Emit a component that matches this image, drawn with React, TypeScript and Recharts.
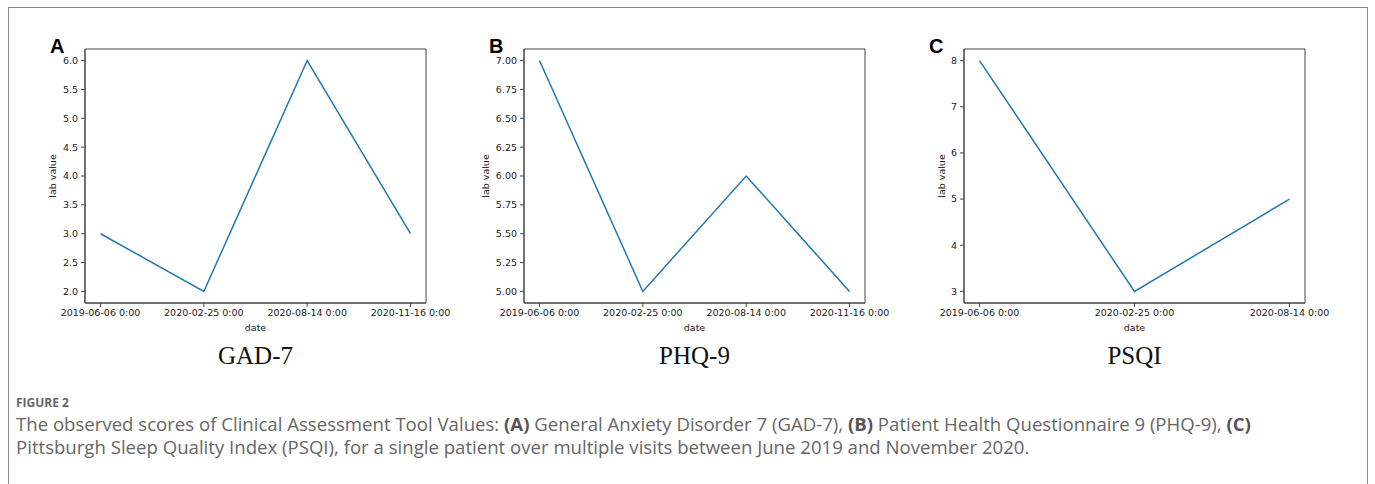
import React from "react";
import { Line, LineChart, ReferenceArea, XAxis, YAxis } from "recharts";

// visit dates (categorical axis, evenly spaced like matplotlib strings)
const datesAB = ["2019-06-06 0:00", "2020-02-25 0:00", "2020-08-14 0:00", "2020-11-16 0:00"];
const datesC = ["2019-06-06 0:00", "2020-02-25 0:00", "2020-08-14 0:00"];

const gad7 = [3, 2, 6, 3];
const phq9 = [7, 5, 6, 5];
const psqi = [8, 3, 5];

const gadTicks = [2.0, 2.5, 3.0, 3.5, 4.0, 4.5, 5.0, 5.5, 6.0];
const phqTicks = [5.0, 5.25, 5.5, 5.75, 6.0, 6.25, 6.5, 6.75, 7.0];
const psqiTicks = [3, 4, 5, 6, 7, 8];

const BLUE = "#1f77b4";
const AXIS = "#444";
const tickFont = { fontSize: 9.5, fill: "#222", fontFamily: "DejaVu Sans" };

type PanelProps = {
  left: number;
  letter: string;
  title: string;
  dates: string[];
  values: number[];
  ticks: number[];
  digits: number;
  marginLeft: number;
  ylabelOffset: number;
};

const Panel = ({ left, letter, title, dates, values, ticks, digits, marginLeft, ylabelOffset }: PanelProps) => {
  const data = dates.map((d, i) => ({ i, value: values[i] }));
  const n = dates.length - 1;
  const xpad = n * 0.05;
  const lo = ticks[0];
  const hi = ticks[ticks.length - 1];
  const ypad = (hi - lo) * 0.05;
  const xDomain: [number, number] = [-xpad, n + xpad];
  const yDomain: [number, number] = [lo - ypad, hi + ypad];
  const plotLeft = marginLeft + 30;
  const plotRight = plotLeft + 341;
  const cx = (plotLeft + plotRight) / 2;

  return (
    <div style={{ position: "absolute", left, top: 0, width: 460, height: 380 }}>
      <LineChart
        width={460}
        height={380}
        data={data}
        margin={{ top: 49, right: 460 - plotRight, bottom: 57, left: marginLeft }}
      >
        <XAxis
          dataKey="i"
          type="number"
          domain={xDomain}
          ticks={dates.map((_, i) => i)}
          tickFormatter={(v: number) => dates[v] ?? ""}
          allowDataOverflow
          height={20}
          tickSize={4}
          tickMargin={2}
          stroke={AXIS}
          tick={tickFont}
          interval={0}
        />
        <YAxis
          type="number"
          domain={yDomain}
          ticks={ticks}
          allowDataOverflow
          width={30}
          tickSize={4}
          tickMargin={3}
          stroke={AXIS}
          tick={tickFont}
          tickFormatter={(v: number) => v.toFixed(digits)}
          interval={0}
        />
        {/* matplotlib-style box around the axes */}
        <ReferenceArea
          x1={xDomain[0]}
          x2={xDomain[1]}
          y1={yDomain[0]}
          y2={yDomain[1]}
          fill="none"
          fillOpacity={0}
          stroke={AXIS}
          strokeWidth={1}
          ifOverflow="visible"
        />
        <Line
          type="linear"
          dataKey="value"
          stroke={BLUE}
          strokeWidth={1.5}
          dot={false}
          isAnimationActive={false}
        />
      </LineChart>
      <div style={{ position: "absolute", left: plotLeft - 35, top: 36, fontFamily: "Liberation Sans", fontWeight: 700, fontSize: 20, lineHeight: "20px" }}>
        {letter}
      </div>
      <div
        style={{
          position: "absolute",
          left: plotLeft - ylabelOffset - 30,
          top: 170,
          width: 60,
          textAlign: "center",
          transform: "rotate(-90deg)",
          fontFamily: "DejaVu Sans",
          fontSize: 9.5,
          color: "#222",
          lineHeight: "12px",
        }}
      >
        lab value
      </div>
      <div style={{ position: "absolute", left: cx - 30, top: 322, width: 60, textAlign: "center", fontFamily: "DejaVu Sans", fontSize: 9.5, color: "#222", lineHeight: "12px" }}>
        date
      </div>
      <div style={{ position: "absolute", left: cx - 100, top: 341, width: 200, textAlign: "center", fontFamily: "Liberation Serif", fontSize: 25, color: "#111", lineHeight: "30px" }}>
        {title}
      </div>
    </div>
  );
};

export default function App() {
  return (
    <div style={{ position: "fixed", left: 0, top: 0, width: 1375, height: 484, background: "#fff", overflow: "hidden" }}>
      <div style={{ position: "absolute", left: 8, top: 7, width: 1358, height: 490, border: "1.5px solid #8a8a8a" }} />
      <Panel left={0} letter="A" title="GAD-7" dates={datesAB} values={gad7} ticks={gadTicks} digits={1} marginLeft={55} ylabelOffset={32} />
      <Panel left={460} letter="B" title="PHQ-9" dates={datesAB} values={phq9} ticks={phqTicks} digits={2} marginLeft={34} ylabelOffset={38} />
      <Panel left={910} letter="C" title="PSQI" dates={datesC} values={psqi} ticks={psqiTicks} digits={0} marginLeft={24} ylabelOffset={22} />
      <div style={{ position: "absolute", left: 16, top: 395, fontFamily: "Open Sans", fontWeight: 700, fontSize: 12, color: "#666", lineHeight: "16px" }}>
        FIGURE 2
      </div>
      <div style={{ position: "absolute", left: 16, top: 412, fontFamily: "Open Sans", fontSize: 18.6, color: "#666", lineHeight: "23px", whiteSpace: "nowrap" }}>
        <div>
          The observed scores of Clinical Assessment Tool Values: <b style={{ color: "#555" }}>(A)</b> General Anxiety Disorder 7 (GAD-7), <b style={{ color: "#555" }}>(B)</b> Patient Health Questionnaire 9 (PHQ-9), <b style={{ color: "#555" }}>(C)</b>
        </div>
        <div>Pittsburgh Sleep Quality Index (PSQI), for a single patient over multiple visits between June 2019 and November 2020.</div>
      </div>
    </div>
  );
}
